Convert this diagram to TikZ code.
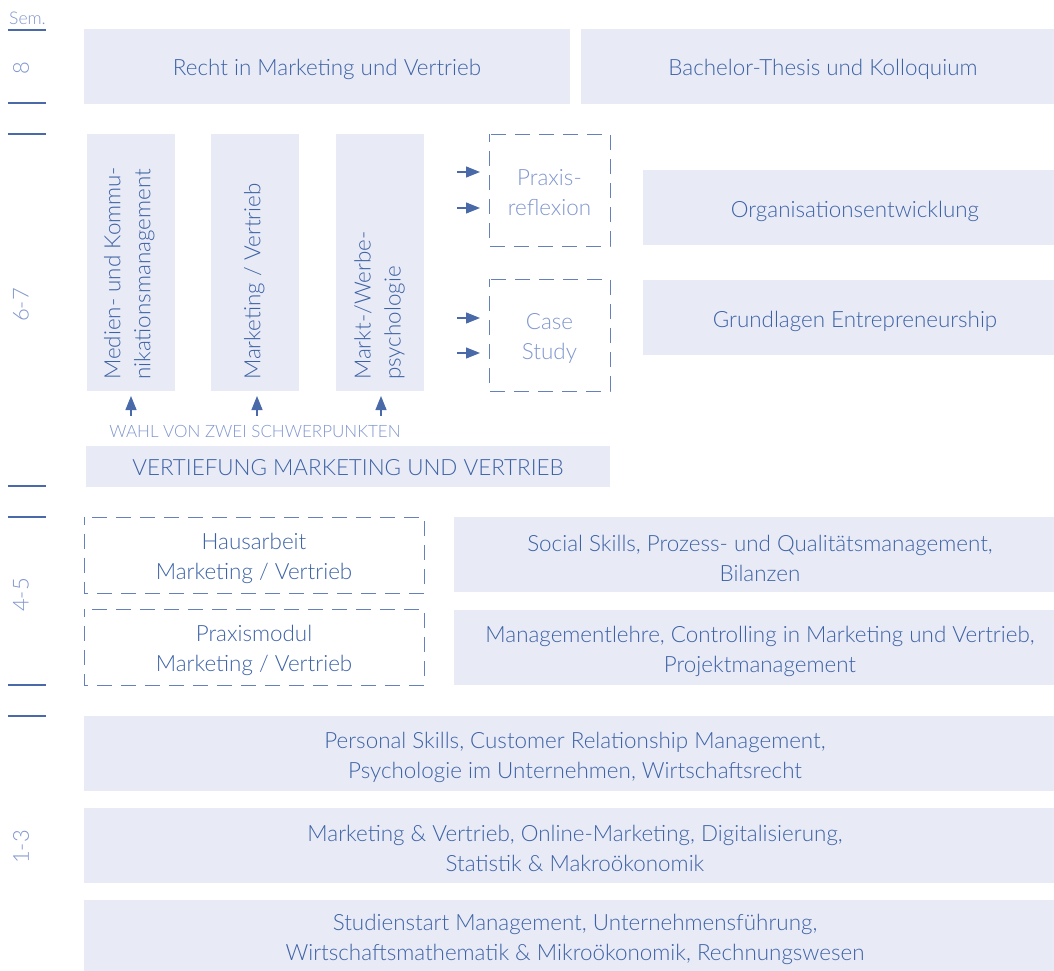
\documentclass[tikz,border=0pt]{standalone}
\usepackage{fontspec}
\setmainfont{Lato Light}
\usetikzlibrary{arrows.meta}
\definecolor{boxfill}{HTML}{E8EAF5}
\definecolor{txtblue}{HTML}{3C62A6}
\definecolor{linecol}{HTML}{4A69A8}
\definecolor{dashcol}{HTML}{6680BC}
\definecolor{semcol}{HTML}{7F95CE}
\tikzset{
  solidbox/.style={fill=boxfill, draw=none},
  dashbox/.style={draw=dashcol, line width=0.9pt, dash pattern=on 15pt off 9pt, dash phase=7pt},
  lbl/.style={text=txtblue, font=\fontsize{22.4}{30}\selectfont, align=center},
  vlbl/.style={text=txtblue, font=\fontsize{22.4}{30}\selectfont, align=left, rotate=90, anchor=north west, inner sep=0pt},
  semlbl/.style={text=semcol, font=\fontsize{22}{24}\selectfont, rotate=90},
  semline/.style={draw=linecol, line width=1.2pt},
  arr/.style={draw=linecol, line width=1.2pt, -{Triangle[length=14pt,width=11pt]}},
}
\begin{document}
\begin{tikzpicture}[x=1pt,y=-1pt]
\useasboundingbox (0,0) rectangle (1054,971);
% Semester column
\node[text=semcol, font=\fontsize{17.5}{20}\selectfont, anchor=base, inner sep=0pt] (sem) at (27.5,25) {Sem.};
\coordinate (s0a) at (8,30); \coordinate (s0b) at (46,30);
\draw[semline] (s0a) -- (s0b);
\node[semlbl] (s8) at (21,68) {8};
\coordinate (s1a) at (8,103); \coordinate (s1b) at (46,103);
\coordinate (s2a) at (8,134); \coordinate (s2b) at (46,134);
\draw[semline] (s1a) -- (s1b);
\draw[semline] (s2a) -- (s2b);
\node[semlbl] (s67) at (21,305) {6-7};
\coordinate (s3a) at (8,486); \coordinate (s3b) at (46,486);
\coordinate (s4a) at (8,517); \coordinate (s4b) at (46,517);
\draw[semline] (s3a) -- (s3b);
\draw[semline] (s4a) -- (s4b);
\node[semlbl] (s45) at (21,595) {4-5};
\coordinate (s5a) at (8,685); \coordinate (s5b) at (46,685);
\coordinate (s6a) at (8,716); \coordinate (s6b) at (46,716);
\draw[semline] (s5a) -- (s5b);
\draw[semline] (s6a) -- (s6b);
\node[semlbl] (s13) at (21,847) {1-3};

% Semester 8
\fill[solidbox] (84,29) rectangle (570,104);
\node[lbl] (recht) at (327,69.5) {Recht in Marketing und Vertrieb};
\fill[solidbox] (581,29) rectangle (1054,104);
\node[lbl] (thesis) at (823,69.5) {Bachelor-Thesis und Kolloquium};

% Semester 6-7 verticals
\fill[solidbox] (87,134) rectangle (175,391);
\node[vlbl] (medien) at (104,380) {Medien- und Kommu-\\nikationsmanagement};
\fill[solidbox] (211,134) rectangle (299,391);
\node[vlbl] (mv) at (244,380) {Marketing / Vertrieb};
\fill[solidbox] (336,134) rectangle (424,391);
\node[vlbl] (markt) at (354,380) {Markt-/Werbe-\\psychologie};

\draw[dashbox] (489,134) rectangle (610,246);
\node[lbl, text=semcol] (praxis) at (549.5,192.5) {Praxis-\\reflexion};
\draw[dashbox] (489,279) rectangle (610,391);
\node[lbl, text=semcol] (case) at (549.5,338) {Case\\Study};

\coordinate (pa1) at (457,172); \coordinate (pa1e) at (480,172);
\coordinate (pa2) at (457,208); \coordinate (pa2e) at (480,208);
\coordinate (ca1) at (457,318); \coordinate (ca1e) at (480,318);
\coordinate (ca2) at (457,353); \coordinate (ca2e) at (480,353);
\draw[arr] (pa1) -- (pa1e);
\draw[arr] (pa2) -- (pa2e);
\draw[arr] (ca1) -- (ca1e);
\draw[arr] (ca2) -- (ca2e);

\fill[solidbox] (643,170) rectangle (1054,245);
\node[lbl] (orga) at (855,211) {Organisationsentwicklung};
\fill[solidbox] (643,280) rectangle (1054,355);
\node[lbl] (entre) at (855,321) {Grundlagen Entrepreneurship};

\node[text=semcol, font=\fontsize{17}{19}\selectfont, inner sep=0pt] (wahl) at (255,431) {WAHL VON ZWEI SCHWERPUNKTEN};
\coordinate (w1) at (131,416); \coordinate (w1e) at (131,396);
\coordinate (w2) at (257,416); \coordinate (w2e) at (257,396);
\coordinate (w3) at (381,416); \coordinate (w3e) at (381,396);
\draw[arr] (w1) -- (w1e);
\draw[arr] (w2) -- (w2e);
\draw[arr] (w3) -- (w3e);

\fill[solidbox] (86,446) rectangle (610,487);
\node[lbl] (vert) at (348,468) {VERTIEFUNG MARKETING UND VERTRIEB};

% Semester 4-5
\draw[dashbox] (84,517) rectangle (424,593);
\node[lbl] (haus) at (254,558) {Hausarbeit\\Marketing / Vertrieb};
\draw[dashbox] (84,609) rectangle (424,685);
\node[lbl] (pmod) at (254,650) {Praxismodul\\Marketing / Vertrieb};
\fill[solidbox] (454,517) rectangle (1054,592);
\node[lbl] (social) at (760,558) {Social Skills, Prozess- und Qualitätsmanagement,\\Bilanzen};
\fill[solidbox] (454,610) rectangle (1054,685);
\node[lbl] (mgmt) at (760,651) {Managementlehre, Controlling in Marketing und Vertrieb,\\Projektmanagement};

% Semester 1-3
\fill[solidbox] (84,716) rectangle (1054,791);
\node[lbl] (pers) at (575,757) {Personal Skills, Customer Relationship Management,\\Psychologie im Unternehmen, Wirtschaftsrecht};
\fill[solidbox] (84,808) rectangle (1054,883);
\node[lbl] (mv13) at (575,848) {Marketing \& Vertrieb, Online-Marketing, Digitalisierung,\\Statistik \& Makroökonomik};
\fill[solidbox] (84,900) rectangle (1054,971);
\node[lbl] (start) at (575,939) {Studienstart Management, Unternehmensführung,\\Wirtschaftsmathematik \& Mikroökonomik, Rechnungswesen};
\end{tikzpicture}
\end{document}
